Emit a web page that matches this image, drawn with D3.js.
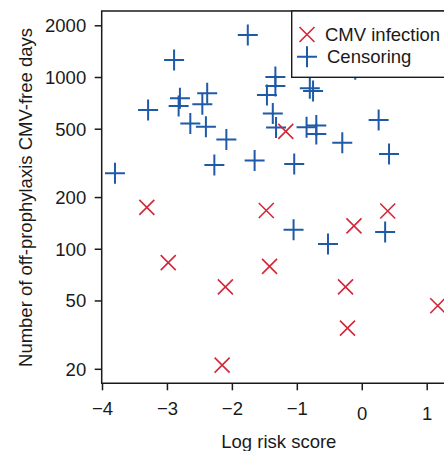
<!DOCTYPE html>
<html>
<head>
<meta charset="utf-8">
<script src="https://cdn.jsdelivr.net/npm/d3@7"></script>
<style>
  html, body { margin: 0; padding: 0; background: #fff; }
  svg { display: block; }
  text { font-family: "Liberation Sans", Arial, Helvetica, sans-serif; fill: #1a1a1a; }
</style>
</head>
<body>
<svg id="chart" width="444" height="451"></svg>
<script>
// ---- Data ----
const infectionX = [-3.31, -2.98, -2.10, -2.15, -1.47, -1.42, -1.17, -0.12, 0.40, -0.25, -0.22, 1.17];
const infectionY = [174, 83, 60, 21, 167, 79, 482, 136, 166, 60, 34.5, 46.6];

const censorX = [-1.755, -2.89, -2.80, -2.82, -2.38, -2.455, -3.29, -2.64, -2.40, -2.085, -3.80, -2.27,
                 -1.65, -1.33, -1.33, -1.46, -1.37, -1.32, -0.85, -0.70, -0.70, -0.80, -0.75, -0.30,
                 0.26, 0.42, -1.04, -1.05, -0.52, 0.36, -0.10];
const censorY = [1758, 1256, 752, 678, 803, 693, 643, 537, 514, 433, 275, 307,
                 326, 1000, 886, 786, 613, 508, 509, 522, 465, 859, 828, 414,
                 562, 356, 311, 129, 106.5, 125, 1110];

const xTicks = [-4, -3, -2, -1, 0, 1];
const yTicks = [20, 50, 100, 200, 500, 1000, 2000];
const legendLabels = ["CMV infection", "Censoring"];
const colors = { infection: "#d2283a", censor: "#1f5aa8" };

// ---- Layout ----
const svg = d3.select("#chart");
const plot = { left: 101.7, top: 11, bottom: 383.3, right: 470 };
const fontSize = 18.5;

const x = d3.scaleLinear().domain([-4, 1]).range([102, 426.7]);
const y = d3.scaleLog().domain([20, 2000]).range([368.8, 25.3]);

// Points
const infection = infectionX.map((v, i) => ({ x: v, y: infectionY[i] }));
const censor = censorX.map((v, i) => ({ x: v, y: censorY[i] }));

const plusPath = "M-10,0H10M0,-10.5V10.5";
const xPath = "M-7.5,-7.5L7.5,7.5M-7.5,7.5L7.5,-7.5";

svg.append("g").selectAll("path").data(censor).join("path")
  .attr("transform", d => `translate(${x(d.x)},${y(d.y)})`)
  .attr("d", plusPath)
  .attr("fill", "none").attr("stroke", colors.censor).attr("stroke-width", 2);

svg.append("g").selectAll("path").data(infection).join("path")
  .attr("transform", d => `translate(${x(d.x)},${y(d.y)})`)
  .attr("d", xPath)
  .attr("fill", "none").attr("stroke", colors.infection).attr("stroke-width", 1.6);

// Box (top, left, bottom)
svg.append("path")
  .attr("d", `M${plot.right},${plot.top}H${plot.left}V${plot.bottom}H${plot.right}`)
  .attr("fill", "none").attr("stroke", "#1a1a1a").attr("stroke-width", 1.5);

// Y axis
const yAxis = svg.append("g")
  .attr("transform", `translate(${plot.left},0)`)
  .call(d3.axisLeft(y).tickValues(yTicks).tickFormat(d3.format("d")).tickSize(7).tickPadding(8.5));
yAxis.select(".domain").remove();
yAxis.selectAll("line").attr("stroke", "#1a1a1a").attr("stroke-width", 1.5);
yAxis.selectAll("text").attr("font-size", fontSize).attr("fill", "#1a1a1a")
  .attr("font-family", "Liberation Sans, Arial, sans-serif").attr("dy", "0.35em");

// X axis
const xAxis = svg.append("g")
  .attr("transform", `translate(0,${plot.bottom})`)
  .call(d3.axisBottom(x).tickValues(xTicks).tickFormat(d3.format("d")).tickSize(7));
xAxis.select(".domain").remove();
xAxis.selectAll("line").attr("stroke", "#1a1a1a").attr("stroke-width", 1.5);
xAxis.selectAll("text").attr("font-size", fontSize).attr("fill", "#1a1a1a")
  .attr("font-family", "Liberation Sans, Arial, sans-serif")
  .attr("dy", 0)
  .attr("y", d => d < 0 ? 32.2 : 37.2);

// Axis titles
svg.append("text")
  .attr("x", 278.8).attr("y", 448)
  .attr("text-anchor", "middle").attr("font-size", fontSize)
  .text("Log risk score");

svg.append("text")
  .attr("transform", "translate(31.5,197.5) rotate(-90)")
  .attr("text-anchor", "middle").attr("font-size", fontSize)
  .text("Number of off-prophylaxis CMV-free days");

// Legend
const lg = svg.append("g");
lg.append("rect")
  .attr("x", 291.7).attr("y", 11).attr("width", 200).attr("height", 66.3)
  .attr("fill", "#fff").attr("stroke", "#1a1a1a").attr("stroke-width", 1.4);
lg.append("path").attr("transform", "translate(307,34.5)").attr("d", xPath)
  .attr("fill", "none").attr("stroke", colors.infection).attr("stroke-width", 1.6);
lg.append("path").attr("transform", "translate(307,56.7)").attr("d", plusPath)
  .attr("fill", "none").attr("stroke", colors.censor).attr("stroke-width", 2);
lg.append("text").attr("x", 325).attr("y", 41.2).attr("font-size", fontSize).text(legendLabels[0]);
lg.append("text").attr("x", 327).attr("y", 63.3).attr("font-size", fontSize).text(legendLabels[1]);
</script>
</body>
</html>
